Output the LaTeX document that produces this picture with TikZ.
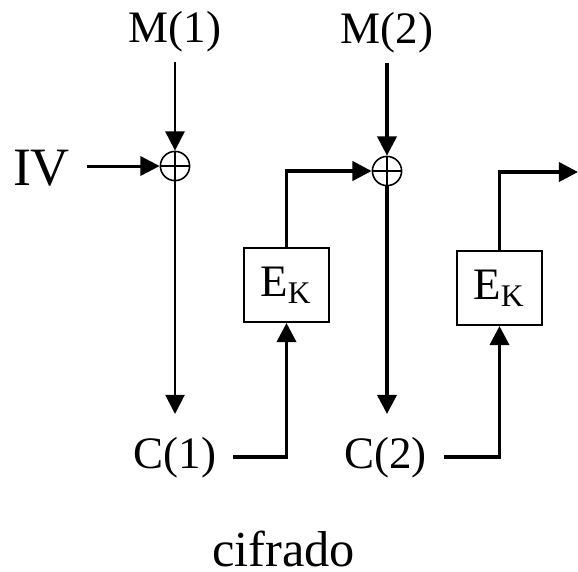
\documentclass[tikz,border=0pt]{standalone}
\usepackage{fontspec}
\setmainfont{Liberation Serif}
\usetikzlibrary{arrows.meta}

\begin{document}
\begin{tikzpicture}[x=0.25pt, y=-0.25pt,
    txt/.style={inner xsep=4pt, inner ysep=2.5pt, anchor=base, font=\fontsize{11.25}{13}\selectfont},
    xor/.style={circle, draw, line width=0.4pt, minimum size=7.3pt, inner sep=0pt,
      path picture={\draw[line width=0.4pt] (path picture bounding box.north) -- (path picture bounding box.south)
        (path picture bounding box.west) -- (path picture bounding box.east);}},
    enc/.style={draw, line width=0.5pt, minimum width=21.25pt, minimum height=18.5pt, inner sep=0pt,
      font=\fontsize{11.25}{13}\selectfont},
    wire/.style={line width=0.9pt, -{Triangle[length=4.8pt,width=4.8pt]}},
    thin wire/.style={wire, line width=0.5pt}]
  \useasboundingbox (0,0) rectangle (578,571);

  \node[txt] (m1) at (175,42) {M(1)};
  \node[txt] (m2) at (387,43) {M(2)};
  \node[txt, font=\fontsize{13.5}{15}\selectfont] (iv) at (41.5,185) {IV};
  \node[xor] (xor1) at (175,166) {};
  \node[xor] (xor2) at (387,171) {};
  \node[enc] (ek1) at (286.5,285) {E\textsubscript{K}};
  \node[enc] (ek2) at (499.5,288) {E\textsubscript{K}};
  \node[txt] (c1) at (175,468) {C(1)};
  \node[txt] (c2) at (385.5,468) {C(2)};
  \coordinate (out) at (578,172);
  \node[txt, font=\fontsize{12.6}{15}\selectfont] (cifrado) at (283.5,566) {cifrado};

  \draw[thin wire] (m1) -- (xor1);
  \draw[thin wire, shorten >=3pt] (xor1) -- (c1);
  \draw[wire, line width=0.75pt] (iv.east |- xor1) -- (xor1);
  \draw[wire] (c1.east) -| (ek1.south);
  \draw[wire] (ek1.north) |- (xor2);
  \draw[wire, line width=0.8pt] (m2.south -| xor2) -- (xor2);
  \draw[wire, shorten >=3pt] (xor2) -- (xor2 |- c2.north);
  \draw[wire] (c2.east) -| (ek2.south);
  \draw[wire] (ek2.north) |- (out);
\end{tikzpicture}
\end{document}
